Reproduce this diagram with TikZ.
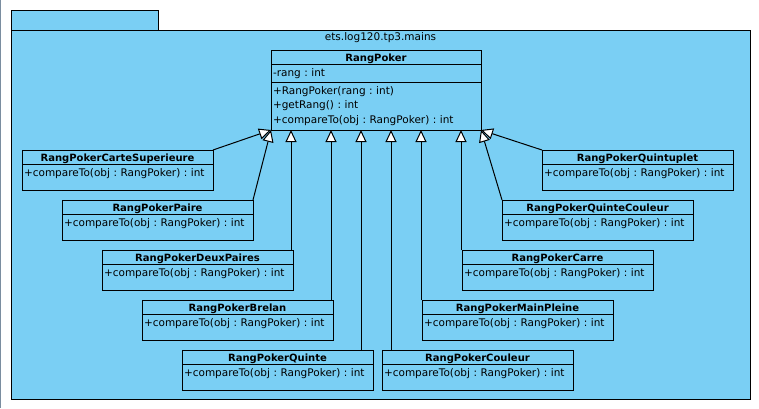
\documentclass[tikz,border=0pt]{standalone}
\usepackage{fontspec}
\setmainfont{DejaVu Sans}
\usetikzlibrary{arrows.meta,positioning}
\definecolor{pkgblue}{RGB}{122,207,244}
\definecolor{edgegrey}{RGB}{122,141,160}
\frenchspacing
\begin{document}
\begin{tikzpicture}[x=1pt,y=-1pt,line width=1pt,
    pkg/.style={draw,fill=pkgblue},
    ctitle/.style={draw,fill=pkgblue,anchor=north west,minimum width=191pt,minimum height=14pt,inner sep=0pt,outer sep=0pt,text height=10pt,text depth=2pt,font=\fontsize{10}{12}\selectfont\bfseries},
    cbody/.style={draw,fill=pkgblue,minimum width=191pt,inner xsep=2pt,inner ysep=0pt,outer sep=0pt,text width=187pt,align=left,text height=12.5pt,text depth=13.5pt,font=\fontsize{10.5}{14.3}\selectfont},
    inh/.style={-{Triangle[length=12pt,width=11pt,fill=white]}}]
    \useasboundingbox (0,0) rectangle (759,408);
    \fill[edgegrey] (0,0) rectangle (1.2,408);
    % package
    \draw[pkg] (11,10) rectangle (158,30);
    \draw[pkg] (11,30) rectangle (750,399);
    \node[anchor=base,font=\fontsize{10.5}{12}\selectfont] (pkgname) at (380.5,40.5) {ets.log120.tp3.mains};
    % super class
    \node[ctitle,minimum width=210pt] (poker) at (271,50) {RangPoker};
    \node[cbody,minimum width=210pt,text width=206pt,text depth=5.5pt,below=0pt of poker] (poker-attr) {-rang : int};
    \node[cbody,minimum width=210pt,text width=206pt,text depth=35.5pt,below=0pt of poker-attr] (poker-ops) {+RangPoker(rang : int)\\+getRang() : int\\+compareTo(obj : RangPoker) : int};
    % sub classes
    \node[ctitle] (carte) at (22,150) {RangPokerCarteSuperieure};
    \node[cbody,below=0pt of carte] (carte-ops) {+compareTo(obj : RangPoker) : int};
    \node[ctitle] (paire) at (62,200) {RangPokerPaire};
    \node[cbody,below=0pt of paire] (paire-ops) {+compareTo(obj : RangPoker) : int};
    \node[ctitle] (deux) at (102,250) {RangPokerDeuxPaires};
    \node[cbody,below=0pt of deux] (deux-ops) {+compareTo(obj : RangPoker) : int};
    \node[ctitle] (brelan) at (142,300) {RangPokerBrelan};
    \node[cbody,below=0pt of brelan] (brelan-ops) {+compareTo(obj : RangPoker) : int};
    \node[ctitle] (quinte) at (182,350) {RangPokerQuinte};
    \node[cbody,below=0pt of quinte] (quinte-ops) {+compareTo(obj : RangPoker) : int};
    \node[ctitle] (couleur) at (382,350) {RangPokerCouleur};
    \node[cbody,below=0pt of couleur] (couleur-ops) {+compareTo(obj : RangPoker) : int};
    \node[ctitle] (main) at (422,300) {RangPokerMainPleine};
    \node[cbody,below=0pt of main] (main-ops) {+compareTo(obj : RangPoker) : int};
    \node[ctitle] (carre) at (462,250) {RangPokerCarre};
    \node[cbody,below=0pt of carre] (carre-ops) {+compareTo(obj : RangPoker) : int};
    \node[ctitle] (qcouleur) at (502,200) {RangPokerQuinteCouleur};
    \node[cbody,below=0pt of qcouleur] (qcouleur-ops) {+compareTo(obj : RangPoker) : int};
    \node[ctitle] (quintuplet) at (542,150) {RangPokerQuintuplet};
    \node[cbody,below=0pt of quintuplet] (quintuplet-ops) {+compareTo(obj : RangPoker) : int};
    % generalisations
    \draw[inh] (carte.north east) -- (poker-ops.south west);
    \draw[inh] (paire.north east) -- (poker-ops.south west);
    \draw[inh] ([xshift=-2pt]deux.north east) -- ([xshift=-2pt]deux.north east |- poker-ops.south);
    \draw[inh] ([xshift=-2pt]brelan.north east) -- ([xshift=-2pt]brelan.north east |- poker-ops.south);
    \draw[inh] ([xshift=-12pt]quinte.north east) -- ([xshift=-12pt]quinte.north east |- poker-ops.south);
    \draw[inh] ([xshift=9pt]couleur.north west) -- ([xshift=9pt]couleur.north west |- poker-ops.south);
    \draw[inh] ([xshift=-1pt]main.north west) -- ([xshift=-1pt]main.north west |- poker-ops.south);
    \draw[inh] ([xshift=-1pt]carre.north west) -- ([xshift=-1pt]carre.north west |- poker-ops.south);
    \draw[inh] (qcouleur.north west) -- (poker-ops.south east);
    \draw[inh] (quintuplet.north west) -- (poker-ops.south east);
\end{tikzpicture}
\end{document}
